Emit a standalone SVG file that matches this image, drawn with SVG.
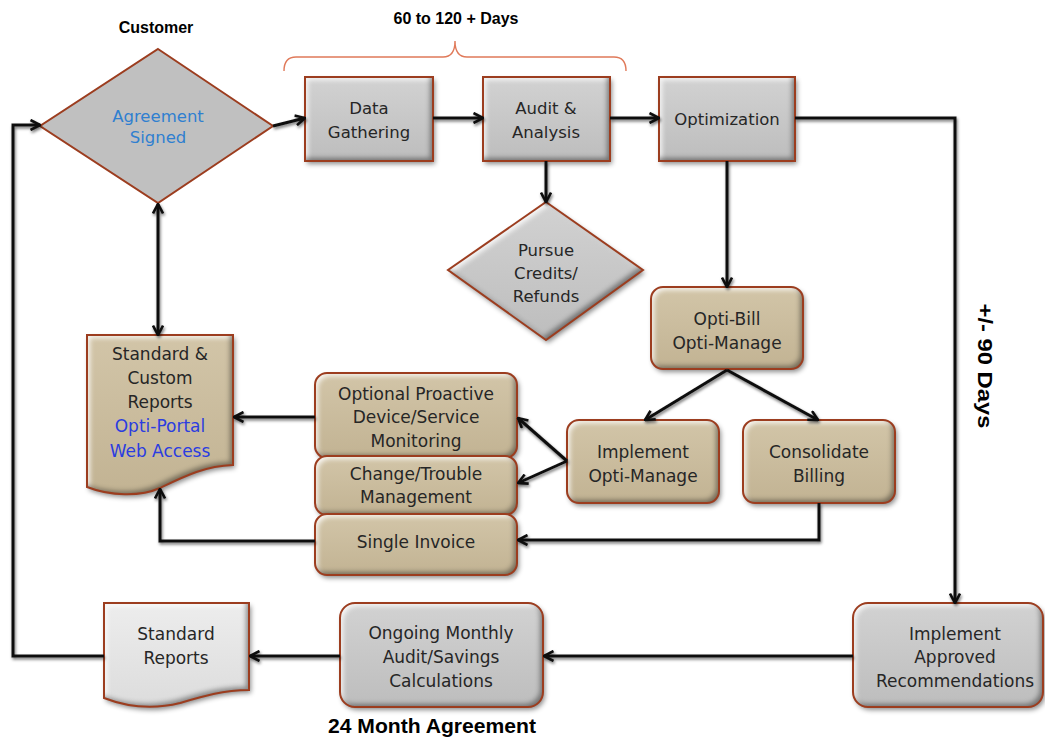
<svg xmlns="http://www.w3.org/2000/svg" width="1045" height="738" viewBox="0 0 1045 738">
<defs>
<style>
.t{font-family:"DejaVu Sans","Liberation Sans",sans-serif;font-size:17px;fill:#262626;text-anchor:middle}
.ts{font-size:16.5px}
.blue1{fill:#2f7fd0}
.blue2{fill:#2b3de0}
.lbl{font-family:"Liberation Sans",Arial,sans-serif;font-weight:bold;fill:#000;text-anchor:middle}
.edge{fill:none;stroke:#9c3d1f;stroke-width:2}
.gray{fill:url(#gGray)}
.tan{fill:url(#gTan)}
.light{fill:url(#gLight)}
.conn{fill:none;stroke:#111;stroke-width:3;stroke-linejoin:miter}
</style>
<linearGradient id="gGray" x1="0" y1="0" x2="0" y2="1">
<stop offset="0" stop-color="#d2d2d2"/><stop offset="1" stop-color="#bdbdbd"/>
</linearGradient>
<linearGradient id="gTan" x1="0" y1="0" x2="0" y2="1">
<stop offset="0" stop-color="#d2c5a8"/><stop offset="1" stop-color="#c2b393"/>
</linearGradient>
<linearGradient id="gLight" x1="0" y1="0" x2="0" y2="1">
<stop offset="0" stop-color="#ededed"/><stop offset="1" stop-color="#dcdcdc"/>
</linearGradient>
<filter id="bevel" x="-15%" y="-15%" width="135%" height="140%" color-interpolation-filters="sRGB">
<feGaussianBlur in="SourceAlpha" stdDeviation="2.5" result="b"/>
<feOffset in="b" dx="3" dy="3" result="bd"/>
<feComposite in="SourceAlpha" in2="bd" operator="out" result="hiMask"/>
<feFlood flood-color="#ffffff" flood-opacity="0.85"/>
<feComposite in2="hiMask" operator="in" result="hi"/>
<feOffset in="b" dx="-3" dy="-3" result="bu"/>
<feComposite in="SourceAlpha" in2="bu" operator="out" result="loMask"/>
<feFlood flood-color="#000000" flood-opacity="0.4"/>
<feComposite in2="loMask" operator="in" result="lo"/>
<feGaussianBlur in="SourceAlpha" stdDeviation="2.5" result="sb"/>
<feOffset in="sb" dx="2" dy="3" result="sh0"/>
<feFlood flood-color="#000000" flood-opacity="0.45"/>
<feComposite in2="sh0" operator="in" result="sh"/>
<feMerge><feMergeNode in="sh"/><feMergeNode in="SourceGraphic"/><feMergeNode in="hi"/><feMergeNode in="lo"/></feMerge>
</filter>
<filter id="lsh" filterUnits="userSpaceOnUse" x="0" y="0" width="1045" height="738">
<feGaussianBlur in="SourceAlpha" stdDeviation="1.6" result="b"/>
<feOffset in="b" dx="1" dy="1.5" result="o"/>
<feFlood flood-color="#000" flood-opacity="0.55"/>
<feComposite in2="o" operator="in" result="s"/>
<feMerge><feMergeNode in="s"/><feMergeNode in="SourceGraphic"/></feMerge>
</filter>
<marker id="ah" viewBox="0 0 12 12" refX="11" refY="6" markerWidth="12" markerHeight="12" markerUnits="userSpaceOnUse" orient="auto-start-reverse">
<path d="M1.5,1 L11,6 L1.5,11" fill="none" stroke="#111" stroke-width="2.6"/>
</marker>
</defs>
<rect width="1045" height="738" fill="#ffffff"/>

<g id="labels">
<text class="lbl" x="156" y="33" font-size="16">Customer</text>
<text class="lbl" x="456" y="24" font-size="16">60 to 120 + Days</text>
<path d="M284,71 Q284,57 296,57 H443 Q455,57 455,41 Q455,57 467,57 H614 Q626,57 626,71" fill="none" stroke="#e07a5a" stroke-width="1.4"/>
<text class="lbl" font-size="20" transform="translate(978,366) rotate(90)" textLength="125" lengthAdjust="spacingAndGlyphs">+/- 90 Days</text>
<text class="lbl" x="432" y="733" font-size="20" textLength="208" lengthAdjust="spacingAndGlyphs">24 Month Agreement</text>
</g>

<g id="n-agreement">
<polygon points="158,49 273,126 158,203 40,126" fill="#c0c0c0" stroke="#9c3d1f" stroke-width="2"/>
<text class="t ts blue1" x="158" y="122">Agreement</text>
<text class="t ts blue1" x="158" y="143">Signed</text>
</g>

<g id="n-data">
<rect class="gray" x="305" y="77" width="128" height="84" filter="url(#bevel)"/>
<rect class="edge" x="305" y="77" width="128" height="84"/>
<text class="t ts" x="369" y="114">Data</text>
<text class="t ts" x="369" y="138">Gathering</text>
</g>

<g id="n-audit">
<rect class="gray" x="483" y="77" width="127" height="84" filter="url(#bevel)"/>
<rect class="edge" x="483" y="77" width="127" height="84"/>
<text class="t ts" x="546" y="114">Audit &amp;</text>
<text class="t ts" x="546" y="138">Analysis</text>
</g>

<g id="n-optimization">
<rect class="gray" x="659" y="77" width="136" height="84" filter="url(#bevel)"/>
<rect class="edge" x="659" y="77" width="136" height="84"/>
<text class="t ts" x="727" y="125">Optimization</text>
</g>

<g id="n-pursue">
<polygon class="gray" points="546,202 643,270 546,340 448,270" filter="url(#bevel)"/>
<polygon class="edge" points="546,202 643,270 546,340 448,270"/>
<text class="t ts" x="546" y="256">Pursue</text>
<text class="t ts" x="546" y="279">Credits/</text>
<text class="t ts" x="546" y="302">Refunds</text>
</g>

<g id="n-optibill">
<rect class="tan" x="651" y="287" width="152" height="82" rx="12" filter="url(#bevel)"/>
<rect class="edge" x="651" y="287" width="152" height="82" rx="12"/>
<text class="t" x="727" y="325">Opti-Bill</text>
<text class="t" x="727" y="349">Opti-Manage</text>
</g>

<g id="n-implement-optimanage">
<rect class="tan" x="567" y="420" width="152" height="83" rx="12" filter="url(#bevel)"/>
<rect class="edge" x="567" y="420" width="152" height="83" rx="12"/>
<text class="t" x="643" y="458">Implement</text>
<text class="t" x="643" y="482">Opti-Manage</text>
</g>

<g id="n-consolidate">
<rect class="tan" x="743" y="420" width="152" height="83" rx="12" filter="url(#bevel)"/>
<rect class="edge" x="743" y="420" width="152" height="83" rx="12"/>
<text class="t" x="819" y="458">Consolidate</text>
<text class="t" x="819" y="482">Billing</text>
</g>

<g id="n-optional">
<rect class="tan" x="315" y="373" width="202" height="85" rx="12" filter="url(#bevel)"/>
<rect class="edge" x="315" y="373" width="202" height="85" rx="12"/>
<text class="t" x="416" y="400">Optional Proactive</text>
<text class="t" x="416" y="423">Device/Service</text>
<text class="t" x="416" y="447">Monitoring</text>
</g>

<g id="n-change">
<rect class="tan" x="315" y="456" width="202" height="59" rx="12" filter="url(#bevel)"/>
<rect class="edge" x="315" y="456" width="202" height="59" rx="12"/>
<text class="t" x="416" y="480">Change/Trouble</text>
<text class="t" x="416" y="503">Management</text>
</g>

<g id="n-single">
<rect class="tan" x="315" y="514" width="202" height="61" rx="12" filter="url(#bevel)"/>
<rect class="edge" x="315" y="514" width="202" height="61" rx="12"/>
<text class="t" x="416" y="548">Single Invoice</text>
</g>

<g id="n-custom-reports">
<path class="tan" d="M87,335 H233 V465 C205,466 185,476 160,488 C140,497 110,496 87,487 Z" filter="url(#bevel)"/>
<path class="edge" d="M87,335 H233 V465 C205,466 185,476 160,488 C140,497 110,496 87,487 Z"/>
<text class="t" x="160" y="360">Standard &amp;</text>
<text class="t" x="160" y="384">Custom</text>
<text class="t" x="160" y="408">Reports</text>
<text class="t blue2" x="160" y="432">Opti-Portal</text>
<text class="t blue2" x="160" y="457">Web Access</text>
</g>

<g id="n-standard-reports">
<path class="light" d="M104,603 H249 V690 C222,690 200,697 180,703 C160,708 135,710 104,698 Z" filter="url(#bevel)"/>
<path class="edge" d="M104,603 H249 V690 C222,690 200,697 180,703 C160,708 135,710 104,698 Z"/>
<text class="t" x="176" y="640">Standard</text>
<text class="t" x="176" y="664">Reports</text>
</g>

<g id="n-ongoing">
<rect class="gray" x="340" y="603" width="203" height="104" rx="15" filter="url(#bevel)"/>
<rect class="edge" x="340" y="603" width="203" height="104" rx="15"/>
<text class="t" x="441" y="639">Ongoing Monthly</text>
<text class="t" x="441" y="663">Audit/Savings</text>
<text class="t" x="441" y="687">Calculations</text>
</g>

<g id="n-implement-approved">
<rect class="gray" x="853" y="603" width="190" height="104" rx="15" filter="url(#bevel)"/>
<rect class="edge" x="853" y="603" width="190" height="104" rx="15"/>
<text class="t" x="955" y="640">Implement</text>
<text class="t" x="955" y="663">Approved</text>
<text class="t" x="955" y="687">Recommendations</text>
</g>

<g id="connectors" filter="url(#lsh)">
<path class="conn" d="M104,656 H13 V125 H40" marker-end="url(#ah)"/>
<path class="conn" d="M273,126 L305,118" marker-end="url(#ah)"/>
<path class="conn" d="M433,118 H483" marker-end="url(#ah)"/>
<path class="conn" d="M610,118 H659" marker-end="url(#ah)"/>
<path class="conn" d="M795,118 H955 V603" marker-end="url(#ah)"/>
<path class="conn" d="M546,161 V202" marker-end="url(#ah)"/>
<path class="conn" d="M727,161 V287" marker-end="url(#ah)"/>
<path class="conn" d="M727,370 L645,420" marker-end="url(#ah)"/>
<path class="conn" d="M727,370 L818,420" marker-end="url(#ah)"/>
<path class="conn" d="M567,461 L518,418" marker-end="url(#ah)"/>
<path class="conn" d="M567,461 L518,483" marker-end="url(#ah)"/>
<path class="conn" d="M819,503 V540 H518" marker-end="url(#ah)"/>
<path class="conn" d="M315,417 H234" marker-end="url(#ah)"/>
<path class="conn" d="M315,541 H160 V489" marker-end="url(#ah)"/>
<path class="conn" d="M158,204 V335" marker-start="url(#ah)" marker-end="url(#ah)"/>
<path class="conn" d="M853,656 H544" marker-end="url(#ah)"/>
<path class="conn" d="M340,656 H250" marker-end="url(#ah)"/>
</g>
</svg>
